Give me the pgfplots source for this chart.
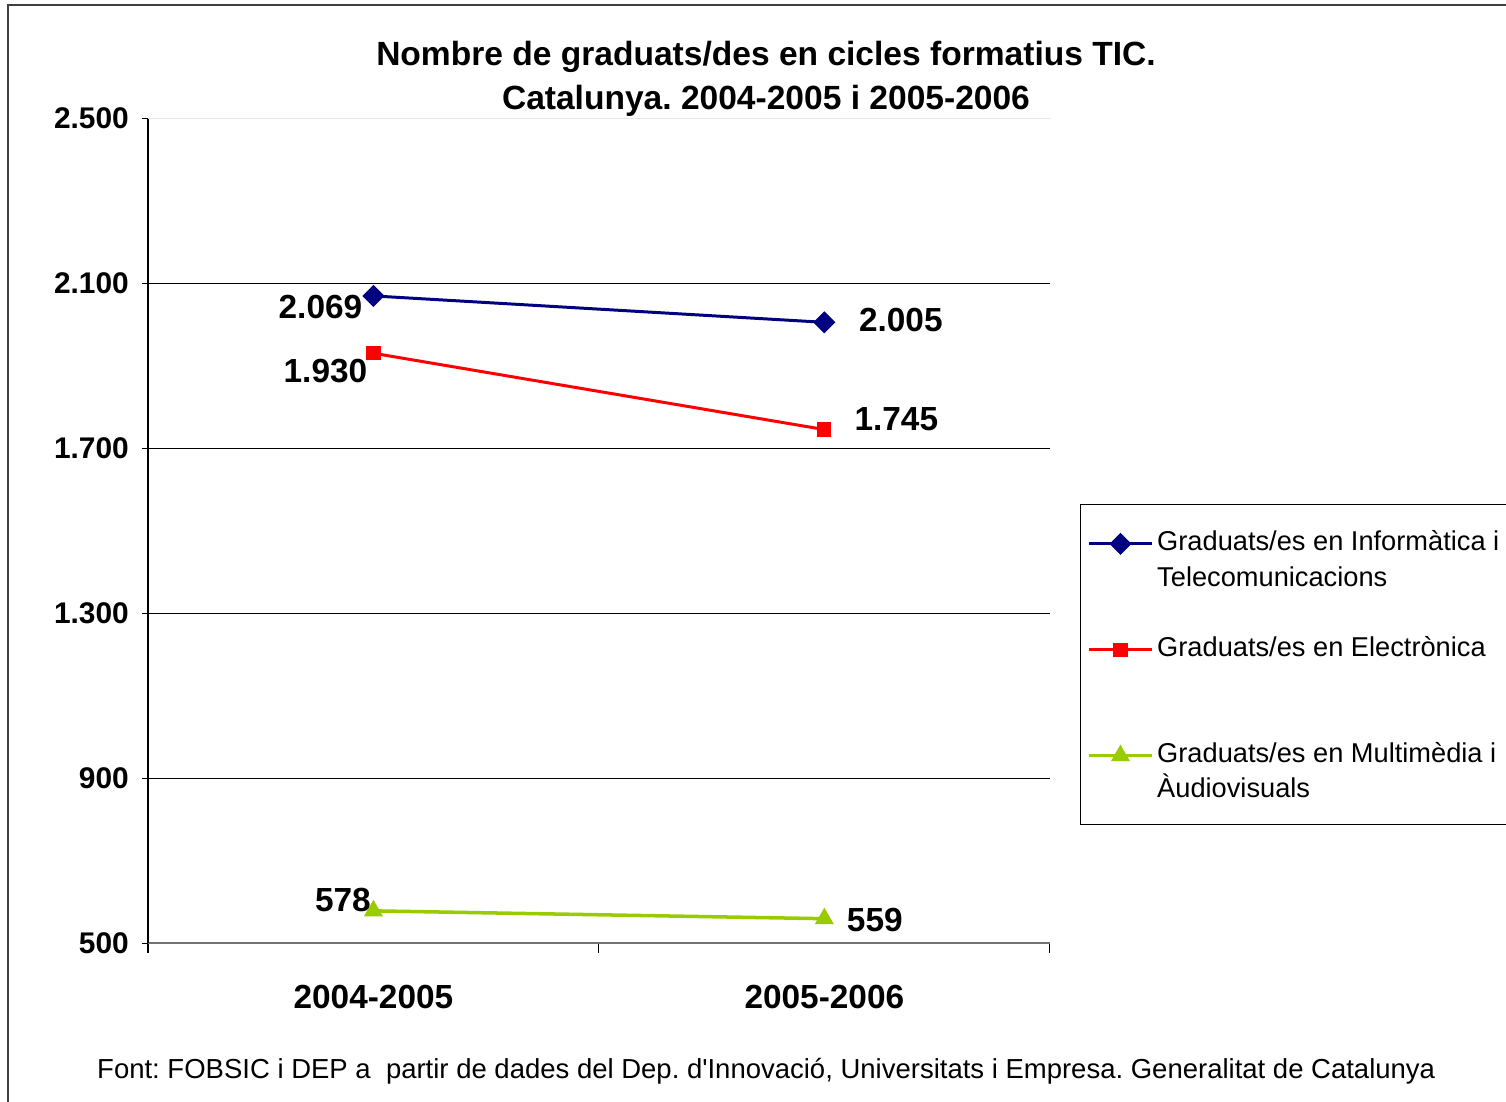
\documentclass[border=0pt]{standalone}
\usepackage{fontspec}
\setmainfont{Liberation Sans}
\usepackage{pgfplots}
\pgfplotsset{compat=1.18}
\frenchspacing

\definecolor{infblue}{HTML}{000080}
\definecolor{elecred}{HTML}{FF0000}
\definecolor{multgreen}{HTML}{99CC00}
\definecolor{framegray}{HTML}{404040}

% 1 px of the reference = 0.02cm = 0.569pt
\begin{document}
\begin{tikzpicture}
\begin{scope}[x=0.02cm,y=0.02cm]
  \draw[line width=1.1pt, framegray] (8,-60) rectangle (1600,1096);
  \node[align=center, font=\bfseries\fontsize{19.1}{25}\selectfont] at (766,1022)
    {Nombre de graduats/des en cicles formatius TIC.\\Catalunya. 2004-2005 i 2005-2006};
  \node[anchor=west, font=\fontsize{15.65}{18}\selectfont] at (91,30)
    {Font: FOBSIC i DEP a\ \ partir de dades del Dep. d\textquotesingle Innovació, Universitats i Empresa. Generalitat de Catalunya};
\end{scope}

\begin{axis}[
  at={(2.96cm,3.16cm)}, anchor=south west,
  scale only axis, width=18.04cm, height=16.5cm,
  xmin=0.5, xmax=2.5, ymin=500, ymax=2500,
  axis lines=left,
  x axis line style={-, draw=black!55, line width=1.4pt},
  y axis line style={-, draw=black, line width=0.6pt},
  xtick={1,2}, xticklabels={2004-2005,2005-2006},
  minor xtick={0.5,1.5,2.5},
  major x tick style={draw=none},
  minor x tick style={black, line width=0.6pt},
  y tick style={black, line width=0.6pt},
  tick align=outside,
  major tick length=3.4pt,
  minor tick length=5.7pt,
  ytick={500,900,1300,1700,2100},
  extra y ticks={2500},
  extra y tick style={grid style={black!10, line width=0.6pt}},
  ymajorgrids,
  grid style={black, line width=0.6pt},
  scaled y ticks=false,
  /pgf/number format/1000 sep={.},
  /pgf/number format/assume math mode=true,
  yticklabel style={font=\bfseries\fontsize{17}{20}\selectfont, xshift=-4pt},
  xticklabel style={font=\bfseries\fontsize{19}{22}\selectfont, yshift=-17pt},
  legend style={at={(1.0333,0.5321)}, anchor=north west, draw=black,
    font=\fontsize{15.5}{20}\selectfont, inner xsep=4pt, inner ysep=13pt,
    row sep=24.8pt, nodes={text depth=},
    cells={anchor=base west, inner xsep=1.4pt, inner ysep=2pt}},
  legend image code/.code={\draw[mark repeat=2,mark phase=2]
    plot coordinates {(0cm,4pt) (0.63cm,4pt) (1.26cm,4pt)};},
  every node near coord/.append style={font=\bfseries\fontsize{19}{22}\selectfont,
    text=black, anchor=center, xshift=\dx*0.569pt, yshift=\dy*0.569pt},
]
\addplot[color=infblue, line width=1.7pt, mark=square*, mark size=3.6pt,
  mark options={rotate=45},
  nodes near coords, point meta=y,
  visualization depends on={\thisrow{dx} \as \dx},
  visualization depends on={\thisrow{dy} \as \dy}]
  table {
x y dx dy
1 2069 -53 -11
2 2005 76.5 2
};
\addlegendentry{\parbox[t]{9cm}{Graduats/es en Informàtica i\\Telecomunicacions}}

\addplot[color=elecred, line width=1.7pt, mark=square*, mark size=3.2pt,
  nodes near coords, point meta=y,
  visualization depends on={\thisrow{dx} \as \dx},
  visualization depends on={\thisrow{dy} \as \dy}]
  table {
x y dx dy
1 1930 -48 -18
2 1745 72 10
};
\addlegendentry{\parbox[t]{9cm}{Graduats/es en Electrònica\\\mbox{}}}

\addplot[color=multgreen, line width=2pt, mark=triangle*, mark size=4.3pt,
  nodes near coords, point meta=y,
  visualization depends on={\thisrow{dx} \as \dx},
  visualization depends on={\thisrow{dy} \as \dy}]
  table {
x y dx dy
1 578 -30.5 11
2 559 50.5 -1
};
\addlegendentry{\parbox[t]{9cm}{Graduats/es en Multimèdia i\\Àudiovisuals}}
\end{axis}

\begin{scope}[x=0.02cm,y=0.02cm]
  \pgfresetboundingbox
  \path[use as bounding box] (0,0) rectangle (1506,1101);
\end{scope}
\end{tikzpicture}
\end{document}
